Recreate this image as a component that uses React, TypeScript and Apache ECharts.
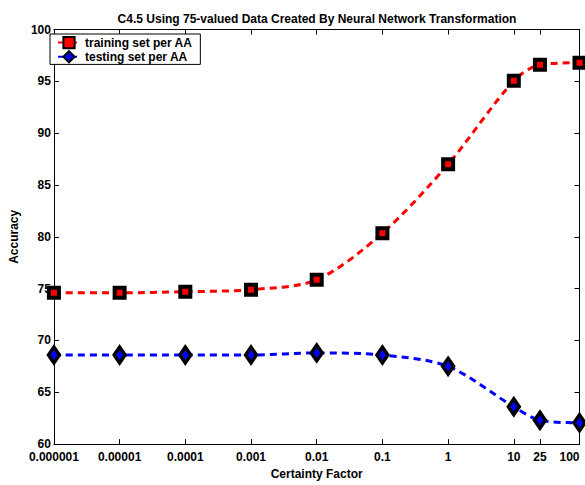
import React, { useEffect, useRef } from "react";
import * as echarts from "echarts";

const xValues = [0.000001, 0.00001, 0.0001, 0.001, 0.01, 0.1, 1, 10, 25, 100];
const xLabels = ["0.000001", "0.00001", "0.0001", "0.001", "0.01", "0.1", "1", "10", "25", "100"];
const trainingValues = [74.6, 74.6, 74.7, 74.9, 75.85, 80.35, 87.0, 95.05, 96.6, 96.8];
const testingValues = [68.6, 68.6, 68.6, 68.6, 68.8, 68.6, 67.5, 63.6, 62.3, 62.05];
const yTicks = [60, 65, 70, 75, 80, 85, 90, 95, 100];

const FONT = "Liberation Sans, Arial, Helvetica, sans-serif";

function labelFor(v: number): string {
  let best = 0;
  let bd = Infinity;
  xValues.forEach((x, i) => {
    const d = Math.abs(Math.log10(x) - Math.log10(v));
    if (d < bd) {
      bd = d;
      best = i;
    }
  });
  return xLabels[best];
}

export default function App() {
  const ref = useRef<HTMLDivElement>(null);
  useEffect(() => {
    document.body.style.margin = "0";
    if (!ref.current) return;
    const chart = echarts.init(ref.current, undefined, { renderer: "svg" });
    const baseX = {
      type: "log" as const,
      logBase: 10,
      min: 0.000001,
      max: 100,
      axisLine: { show: true, lineStyle: { color: "#000", width: 1 } },
      splitLine: { show: false },
      minorTick: { show: false },
    };
    const baseY = {
      type: "value" as const,
      min: 60,
      max: 100,
      interval: 5,
      axisLine: { show: true, lineStyle: { color: "#000", width: 1 } },
      splitLine: { show: false },
    };
    const textBold = { fontFamily: FONT, fontSize: 12, fontWeight: "bold" as const, color: "#000" };
    chart.setOption({
      animation: false,
      backgroundColor: "#fff",
      title: {
        text: "C4.5 Using 75-valued Data Created By Neural Network Transformation",
        left: 312,
        textAlign: "center",
        top: 8,
        textStyle: textBold,
      },
      grid: { left: 44, right: 5.5, top: 29.5, bottom: 30.5, containLabel: false },
      legend: {
        orient: "vertical",
        left: 50,
        top: 34,
        itemGap: 1,
        itemWidth: 22,
        itemHeight: 14,
        padding: [2, 8, 1, 7],
        borderColor: "#000",
        borderWidth: 1,
        backgroundColor: "#fff",
        textStyle: textBold,
        data: ["training set per AA", "testing set per AA"],
      },
      xAxis: [
        {
          ...baseX,
          position: "bottom",
          name: "Certainty Factor",
          nameLocation: "middle",
          nameGap: 18,
          nameTextStyle: textBold,
          axisTick: { show: true, inside: true, length: 5, customValues: xValues, lineStyle: { color: "#000" } },
          axisLabel: {
            show: true,
            customValues: xValues,
            margin: 7,
            lineHeight: 12,
            alignMaxLabel: "right",
            ...textBold,
            formatter: (v: number) => labelFor(v),
          },
        },
        {
          ...baseX,
          position: "top",
          axisTick: { show: true, inside: true, length: 5, customValues: xValues, lineStyle: { color: "#000" } },
          axisLabel: { show: false },
        },
      ],
      yAxis: [
        {
          ...baseY,
          position: "left",
          name: "Accuracy",
          nameLocation: "middle",
          nameGap: 28,
          nameRotate: 90,
          nameTextStyle: textBold,
          axisTick: { show: true, inside: true, length: 5, lineStyle: { color: "#000" } },
          axisLabel: {
            margin: 3,
            lineHeight: 12,
            ...textBold,
            formatter: (v: number) => (yTicks.includes(v) ? String(v) : ""),
          },
        },
        {
          ...baseY,
          position: "right",
          axisTick: { show: true, inside: true, length: 5, lineStyle: { color: "#000" } },
          axisLabel: { show: false },
        },
      ],
      series: [
        {
          name: "training set per AA",
          type: "line",
          xAxisIndex: 0,
          yAxisIndex: 0,
          smooth: 0.3,
          data: xValues.map((x, i) => [x, trainingValues[i]]),
          symbol: "rect",
          symbolSize: 10,
          lineStyle: { color: "#ff0000", width: 3, type: [7, 5] },
          itemStyle: { color: "#ff0000", borderColor: "#000", borderWidth: 4 },
          z: 3,
        },
        {
          name: "testing set per AA",
          type: "line",
          xAxisIndex: 0,
          yAxisIndex: 0,
          smooth: 0.3,
          data: xValues.map((x, i) => [x, testingValues[i]]),
          symbol: "diamond",
          symbolSize: [11, 16],
          lineStyle: { color: "#0000ff", width: 3, type: [7, 5] },
          itemStyle: { color: "#0000ff", borderColor: "#000", borderWidth: 3.5 },
          z: 3,
        },
      ],
    });
    return () => chart.dispose();
  }, []);
  return <div ref={ref} style={{ width: 585, height: 485 }} />;
}
